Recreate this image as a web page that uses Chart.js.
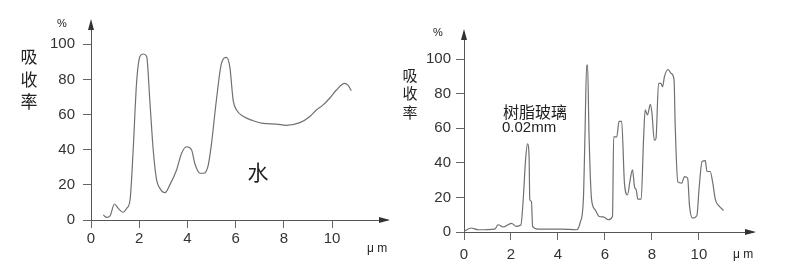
<!DOCTYPE html>
<html>
<head>
<meta charset="utf-8">
<script src="https://cdn.jsdelivr.net/npm/chart.js@4"></script>
<style>
  body { margin: 0; background: #fff; }
  #wrap { position: relative; width: 790px; height: 273px; }
  canvas { position: absolute; top: 0; }
</style>
</head>
<body>
<div id="wrap">
  <canvas id="water" width="395" height="273" style="left:0"></canvas>
  <canvas id="resin" width="395" height="273" style="left:395px"></canvas>
</div>
<script>
// tick labels
var xTicks = [0, 2, 4, 6, 8, 10];
var yTicks = [0, 20, 40, 60, 80, 100];

// water absorption (um, %)
var waterX = [0.51, 0.65, 0.79, 0.97, 1.13, 1.34, 1.48, 1.62, 1.75, 1.89, 2.03, 2.17, 2.31, 2.44, 2.58, 2.72, 2.86, 3.07,
  3.27, 3.55, 3.76, 3.96, 4.17, 4.31, 4.52, 4.68, 4.86, 5.0, 5.2, 5.41, 5.62, 5.76, 5.9, 6.04, 6.31, 6.73, 7.14,
  7.69, 8.1, 8.66, 9.07, 9.35, 9.63, 9.9, 10.18, 10.52, 10.66, 10.8];
var waterY = [2.8, 1.5, 2.3, 9.1, 6.6, 4.4, 6.6, 11.4, 40, 78, 93, 94.5, 93, 68, 40, 23, 18, 15.6,
  20, 28.5, 38, 41.7, 40, 32, 26.6, 26.6, 31, 43.6, 68, 89, 92.6, 87, 68, 62.6, 59, 56.5, 55,
  54.6, 53.9, 55.4, 58.8, 62.6, 65.5, 69.3, 74, 77.8, 76.8, 73.6];

// resin glass 0.02mm absorption (um, %)
var resinX = [0, 0.31, 0.6, 1.31, 1.45, 1.66, 2.02, 2.23, 2.42, 2.52, 2.62, 2.7, 2.77, 2.8, 2.87, 2.92, 3.16, 3.44,
  4.15, 4.79, 4.94, 5.08, 5.15, 5.22, 5.26, 5.32, 5.43, 5.58, 5.75, 5.93, 6.14, 6.32, 6.37, 6.5, 6.6, 6.71,
  6.83, 6.96, 7.07, 7.17, 7.26, 7.33, 7.4, 7.54, 7.64, 7.71, 7.81, 7.93, 8.0, 8.1, 8.17, 8.28, 8.38, 8.45,
  8.53, 8.68, 8.82, 8.94, 8.99, 9.1, 9.27, 9.38, 9.52, 9.6, 9.73, 9.91, 10.01, 10.13, 10.27, 10.34, 10.48,
  10.58, 10.7, 10.87, 11.05];
var resinY = [0.4, 2.3, 1.3, 1.7, 4.2, 2.9, 5, 3.3, 4, 18.7, 41.7, 51, 43.7, 18.7, 17.7, 3.3, 1.7, 1.7,
  1.7, 1.3, 5.2, 18.7, 57, 96.5, 96.5, 57, 18.7, 12.9, 9, 8.7, 7.1, 9, 55, 55, 64, 64,
  28, 21.5, 30, 36, 26, 24.4, 19, 19, 53, 70.6, 67.7, 73.8, 68.7, 53, 54, 86, 86, 84,
  89.8, 94, 91.7, 88, 61, 29, 28.3, 32, 31, 14.8, 8, 9.4, 26, 40.7, 41.3, 35, 35,
  29, 18.7, 14.8, 12.5];

var axisPlugin = {
  id: 'axisDecor',
  afterDraw(chart) {
    var ctx = chart.ctx;
    var a = chart.chartArea;
    ctx.save();
    ctx.fillStyle = '#333';
    // arrow on x axis
    ctx.beginPath();
    ctx.moveTo(a.right + 3, a.bottom);
    ctx.lineTo(a.right - 8, a.bottom - 3);
    ctx.lineTo(a.right - 8, a.bottom + 3);
    ctx.closePath();
    ctx.fill();
    // arrow on y axis
    ctx.beginPath();
    ctx.moveTo(a.left, a.top - 3);
    ctx.lineTo(a.left - 3, a.top + 8);
    ctx.lineTo(a.left + 3, a.top + 8);
    ctx.closePath();
    ctx.fill();
    // texts
    var texts = chart.options.plugins.axisDecor.texts;
    ctx.textBaseline = 'middle';
    texts.forEach(function (t) {
      ctx.font = t.font;
      ctx.fillStyle = t.color || '#222';
      ctx.textAlign = t.align || 'center';
      ctx.fillText(t.text, t.x, t.y);
    });
    ctx.restore();
  }
};

function makeChart(id, xs, ys, o) {
  var pts = xs.map(function (x, i) { return { x: x, y: ys[i] }; });
  return new Chart(document.getElementById(id), {
    type: 'scatter',
    data: {
      datasets: [{
        data: pts,
        showLine: true,
        borderColor: '#707070',
        borderWidth: 1.2,
        pointRadius: 0,
        cubicInterpolationMode: 'monotone'
      }]
    },
    options: {
      responsive: false,
      animation: false,
      layout: { padding: { left: 0, right: o.padRight, top: o.top, bottom: o.padBottom } },
      plugins: {
        legend: { display: false },
        tooltip: { enabled: false },
        axisDecor: { texts: o.texts }
      },
      scales: {
        x: {
          type: 'linear',
          min: 0,
          max: o.xMax,
          afterBuildTicks: function (s) { s.ticks = xTicks.map(function (v) { return { value: v }; }); },
          afterFit: function (s) { s.height = o.xAxisH; },
          grid: { drawOnChartArea: false, drawTicks: true, tickLength: 8, color: '#666' },
          border: { display: true, color: '#555', width: 1 },
          ticks: { color: '#333', font: { family: 'Liberation Sans, Arial', size: 15 }, padding: o.xPad, maxRotation: 0 }
        },
        y: {
          min: 0,
          max: o.yMax,
          afterBuildTicks: function (s) { s.ticks = yTicks.map(function (v) { return { value: v }; }); },
          afterFit: function (s) { s.width = o.yAxisW; },
          grid: { drawOnChartArea: false, drawTicks: true, tickLength: 8, color: '#666' },
          border: { display: true, color: '#555', width: 1 },
          ticks: { color: '#333', font: { family: 'Liberation Sans, Arial', size: 15 }, padding: o.yPad }
        }
      }
    },
    plugins: [axisPlugin]
  });
}

var cjk = '"Noto Sans CJK SC", sans-serif';

makeChart('water', waterX, waterY, {
  padRight: 8, top: 22, padBottom: 13, xAxisH: 40, yAxisW: 91,
  xMax: 12.28, yMax: 112.7, xPad: 2, yPad: 8,
  texts: [
    { text: '%', x: 62, y: 24, font: '11px Liberation Sans' },
    { text: '吸', x: 29, y: 57, font: '17px ' + cjk },
    { text: '收', x: 29, y: 80, font: '17px ' + cjk },
    { text: '率', x: 29, y: 102, font: '17px ' + cjk },
    { text: '水', x: 258, y: 172, font: '21px ' + cjk },
    { text: 'μ m', x: 377, y: 249, font: '12px Liberation Sans' }
  ]
});

makeChart('resin', resinX, resinY, {
  padRight: 37, top: 32, padBottom: 1, xAxisH: 40, yAxisW: 69,
  xMax: 12.3, yMax: 115.7, xPad: 6, yPad: 5,
  texts: [
    { text: '%', x: 43, y: 33, font: '11px Liberation Sans' },
    { text: '吸', x: 15, y: 75, font: '15px ' + cjk },
    { text: '收', x: 15, y: 93, font: '15px ' + cjk },
    { text: '率', x: 15, y: 112, font: '15px ' + cjk },
    { text: '树脂玻璃', x: 108, y: 112, font: '16px ' + cjk, align: 'left' },
    { text: '0.02mm', x: 107, y: 128, font: '15px Liberation Sans', align: 'left' },
    { text: 'μ m', x: 348, y: 255, font: '12px Liberation Sans' }
  ]
});
</script>
</body>
</html>
